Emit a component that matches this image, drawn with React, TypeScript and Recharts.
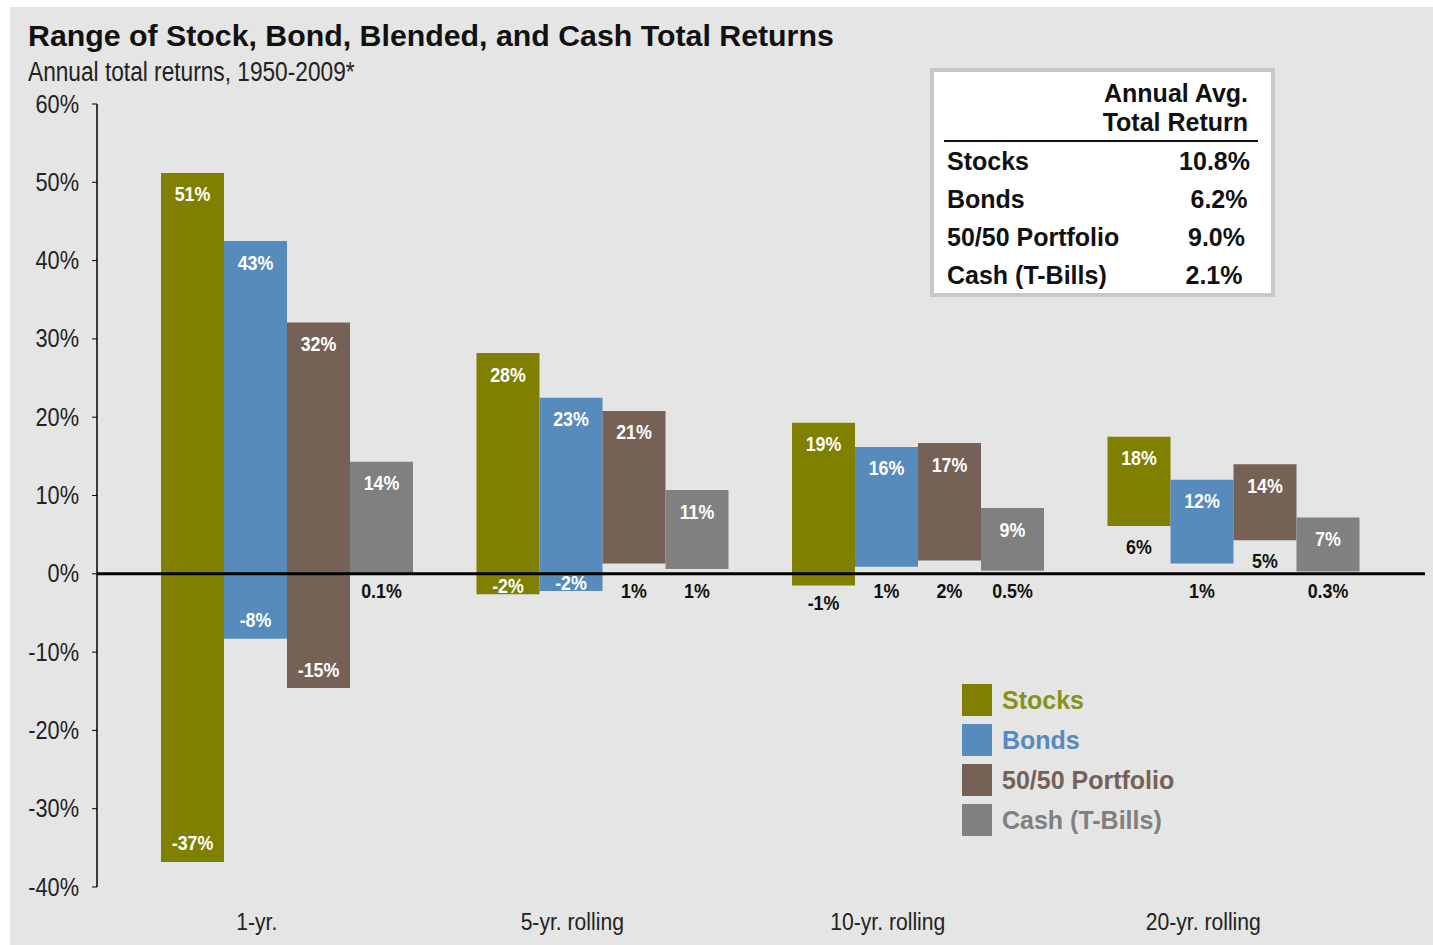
import React from "react";
import { BarChart, Bar, XAxis, YAxis, ReferenceLine, LabelList } from "recharts";

const periods = ["1-yr.", "5-yr. rolling", "10-yr. rolling", "20-yr. rolling"];

const stocksLow = [-36.8, -2.6, -1.5, 6.1];
const stocksHigh = [51.2, 28.2, 19.3, 17.5];
const stocksLowLabels = ["-37%", "-2%", "-1%", "6%"];
const stocksHighLabels = ["51%", "28%", "19%", "18%"];

const bondsLow = [-8.3, -2.2, 0.9, 1.3];
const bondsHigh = [42.5, 22.5, 16.2, 12.0];
const bondsLowLabels = ["-8%", "-2%", "1%", "1%"];
const bondsHighLabels = ["43%", "23%", "16%", "12%"];

const blendLow = [-14.6, 1.3, 1.7, 4.3];
const blendHigh = [32.1, 20.8, 16.7, 14.0];
const blendLowLabels = ["-15%", "1%", "2%", "5%"];
const blendHighLabels = ["32%", "21%", "17%", "14%"];

const cashLow = [0.1, 0.6, 0.4, 0.3];
const cashHigh = [14.3, 10.7, 8.4, 7.2];
const cashLowLabels = ["0.1%", "1%", "0.5%", "0.3%"];
const cashHighLabels = ["14%", "11%", "9%", "7%"];

const yTicks = [-40, -30, -20, -10, 0, 10, 20, 30, 40, 50, 60];

const avgNames = ["Stocks", "Bonds", "50/50 Portfolio", "Cash (T-Bills)"];
const avgValues = ["10.8%", "6.2%", "9.0%", "2.1%"];

const COLORS = {
  stocks: "#808000",
  bonds: "#568bbb",
  blend: "#756156",
  cash: "#808080",
  bg: "#e4e5e4",
};

// no narrow face installed, so condensed text is squeezed with scaleX
const SANS = "'Liberation Sans', Arial, sans-serif";

const series = [
  { key: "stocks", name: "Stocks", color: COLORS.stocks, low: stocksLow, high: stocksHigh, lowLabels: stocksLowLabels, highLabels: stocksHighLabels },
  { key: "bonds", name: "Bonds", color: COLORS.bonds, low: bondsLow, high: bondsHigh, lowLabels: bondsLowLabels, highLabels: bondsHighLabels },
  { key: "blend", name: "50/50 Portfolio", color: COLORS.blend, low: blendLow, high: blendHigh, lowLabels: blendLowLabels, highLabels: blendHighLabels },
  { key: "cash", name: "Cash (T-Bills)", color: COLORS.cash, low: cashLow, high: cashHigh, lowLabels: cashLowLabels, highLabels: cashHighLabels },
];

const data = periods.map((period, i) => {
  const row: any = { period };
  series.forEach((s) => {
    row[s.key] = [s.low[i], s.high[i]];
  });
  return row;
});

const NarrowText = ({ x, y, scale = 0.85, anchor = "middle", children, ...rest }: any) => (
  <text
    transform={`translate(${x},${y}) scale(${scale},1)`}
    x={0}
    y={0}
    textAnchor={anchor}
    dominantBaseline="central"
    fontFamily={SANS}
    {...rest}
  >
    {children}
  </text>
);

function makeLabel(s: (typeof series)[number]) {
  return (props: any) => {
    const { x, y, width, height, index } = props;
    const top = Math.min(y, y + height);
    const h = Math.abs(height);
    const bottom = top + h;
    const low = s.low[index];
    const high = s.high[index];
    const ppu = h / (high - low);
    const zeroY = bottom + low * ppu;
    const cx = x + width / 2;

    let lowY: number;
    let lowFill = "#111";
    if (low < -5) {
      lowY = bottom - 19;
      lowFill = "#fff";
    } else if (low < -2) {
      lowY = bottom - 9;
      lowFill = "#fff";
    } else if (low < 3) {
      lowY = Math.max(bottom, zeroY) + 17;
    } else {
      lowY = bottom + 20;
    }

    return (
      <g>
        <NarrowText x={cx} y={top + 21} fill="#fff" fontWeight="bold" fontSize={21}>
          {s.highLabels[index]}
        </NarrowText>
        <NarrowText x={cx} y={lowY} fill={lowFill} fontWeight="bold" fontSize={21}>
          {s.lowLabels[index]}
        </NarrowText>
      </g>
    );
  };
}

const PeriodTick = (props: any) => {
  const { x, y, payload } = props;
  return (
    <NarrowText x={x - 31} y={y + 27} scale={0.88} fontSize={24} fill="#222">
      {payload.value}
    </NarrowText>
  );
};

const PercentTick = (props: any) => {
  const { x, y, payload } = props;
  return (
    <NarrowText x={x} y={y} scale={0.87} anchor="end" fontSize={25} fill="#222">
      {`${payload.value}%`}
    </NarrowText>
  );
};

const LegendBox = () => (
  <div style={{ fontFamily: SANS, fontWeight: "bold", fontSize: 25 }}>
    {series.map((s) => (
      <div key={s.key} style={{ display: "flex", alignItems: "center", height: 40 }}>
        <div style={{ width: 30, height: 32, background: s.color, marginRight: 10 }} />
        <span style={{ color: s.color === COLORS.stocks ? "#88921a" : s.color }}>{s.name}</span>
      </div>
    ))}
  </div>
);

export default function App() {
  return (
    <div style={{ position: "fixed", left: 0, top: 0, width: 1433, height: 945, background: "#fff", overflow: "hidden" }}>
      <div style={{ position: "absolute", left: 10, top: 7, right: 0, bottom: 0, background: COLORS.bg }} />
      <div style={{ position: "absolute", left: 28, top: 19, fontFamily: SANS, fontWeight: "bold", fontSize: 30.3, lineHeight: "34px", color: "#111", whiteSpace: "nowrap" }}>
        Range of Stock, Bond, Blended, and Cash Total Returns
      </div>
      <div
        style={{
          position: "absolute",
          left: 28,
          top: 56,
          fontFamily: SANS,
          fontSize: 27,
          lineHeight: "32px",
          color: "#222",
          whiteSpace: "nowrap",
          transform: "scaleX(0.84)",
          transformOrigin: "left center",
        }}
      >
        Annual total returns, 1950-2009*
      </div>

      <div style={{ position: "absolute", left: 0, top: 0 }}>
        <BarChart
          width={1433}
          height={945}
          data={data}
          margin={{ top: 104, right: 8, bottom: 18, left: 17 }}
          barCategoryGap={31}
          barGap={0}
        >
          <XAxis
            dataKey="period"
            axisLine={false}
            tickLine={false}
            height={40}
            padding={{ left: 33, right: 33 }}
            tick={<PeriodTick />}
            interval={0}
          />
          <YAxis
            width={80}
            domain={[-40, 60]}
            ticks={yTicks}
            interval={0}
            axisLine={{ stroke: "#000", strokeWidth: 1.5 }}
            tickLine={{ stroke: "#000" }}
            tickSize={5}
            tickMargin={13}
            tick={<PercentTick />}
          />
          {series.map((s) => (
            <Bar key={s.key} dataKey={s.key} name={s.name} fill={s.color} isAnimationActive={false}>
              <LabelList dataKey={s.key} content={makeLabel(s)} />
            </Bar>
          ))}
          <ReferenceLine y={0} stroke="#000" strokeWidth={3} />
        </BarChart>
      </div>

      <div style={{ position: "absolute", left: 962, top: 680 }}>
        <LegendBox />
      </div>

      <div
        style={{
          position: "absolute",
          left: 930,
          top: 68,
          width: 337,
          height: 221,
          background: "#fff",
          border: "4px solid #c8c8c8",
          fontFamily: SANS,
          fontWeight: "bold",
          fontSize: 25,
          color: "#111",
        }}
      >
        <div style={{ position: "absolute", right: 23, top: 7, textAlign: "right", lineHeight: "29px" }}>
          Annual Avg.
          <br />
          Total Return
        </div>
        <div style={{ position: "absolute", left: 10, top: 68, width: 314, borderTop: "2px solid #111" }} />
        {avgNames.map((n, i) => (
          <div key={n} style={{ position: "absolute", left: 13, right: 21 + i * 2.5, top: 75 + i * 38, display: "flex", justifyContent: "space-between", lineHeight: "29px" }}>
            <span>{n}</span>
            <span>{avgValues[i]}</span>
          </div>
        ))}
      </div>
    </div>
  );
}
